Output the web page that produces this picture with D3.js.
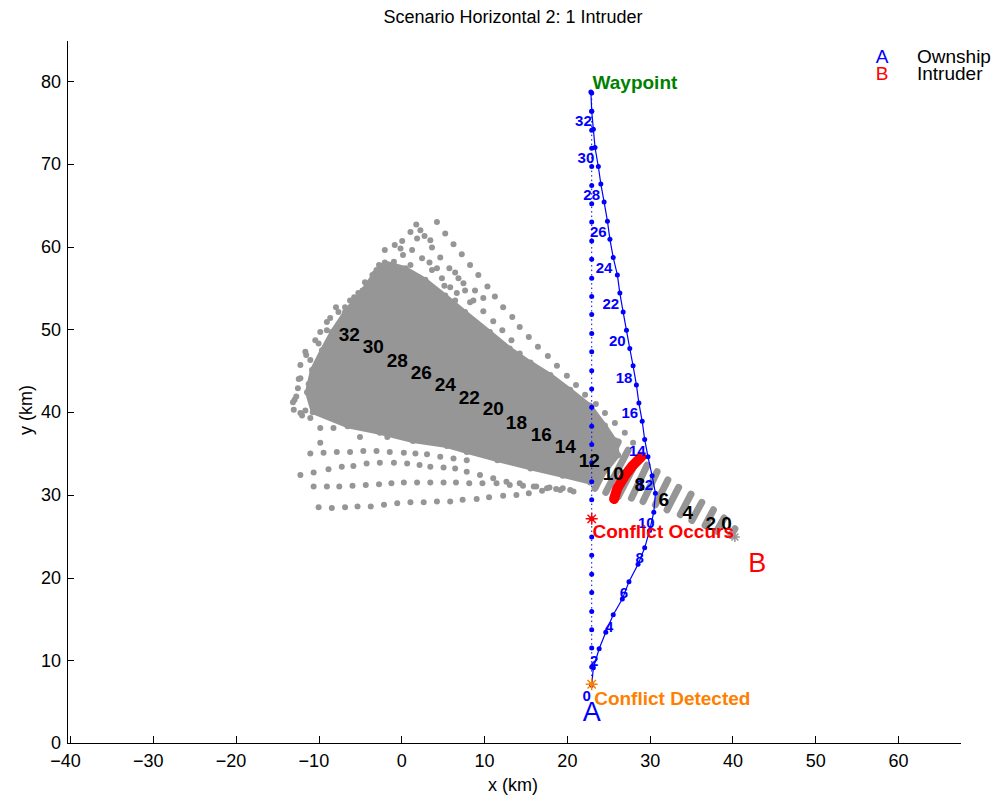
<!DOCTYPE html>
<html>
<head>
<meta charset="utf-8">
<script src="https://cdn.jsdelivr.net/npm/d3@7"></script>
<style>
body { margin: 0; background: #fff; }
svg { display: block; font-family: "Liberation Sans", Arial, Helvetica, sans-serif; }
</style>
</head>
<body>
<script>
// ---- data (km) ----
const xTicks = [-40, -30, -20, -10, 0, 10, 20, 30, 40, 50, 60];
const yTicks = [0, 10, 20, 30, 40, 50, 60, 70, 80];

// nominal ownship track (dotted, x = 23)
const nominalX = 23.0;
const nominalY = [7.0, 9.2, 11.5, 13.7, 15.9, 18.2, 20.4, 22.7, 24.9, 27.1, 29.4, 31.6, 33.9, 36.1, 38.3, 40.6,
  42.8, 45.0, 47.3, 49.5, 51.8, 54.0, 56.2, 58.5, 60.7, 63.0, 65.2, 67.4, 69.7, 71.9, 74.1, 76.4, 78.6];

// resolution manoeuvre of the ownship
const ownshipPath = [[23.0, 7.0], [23.2, 9.1], [23.9, 11.4], [24.7, 13.4], [25.6, 15.5], [26.7, 17.4], [27.5, 19.5],
  [28.6, 21.6], [29.4, 23.6], [30.0, 25.7], [30.5, 27.9], [30.7, 30.2], [30.3, 32.3], [29.8, 34.6], [29.4, 36.7],
  [29.1, 38.9], [28.7, 41.1], [28.4, 43.3], [28.0, 45.6], [27.6, 47.7], [27.2, 49.9], [26.8, 52.1], [26.4, 54.4],
  [26.1, 56.6], [25.6, 58.7], [25.2, 60.9], [24.9, 63.1], [24.5, 65.4], [24.1, 67.6], [23.8, 69.7], [23.4, 72.0],
  [23.2, 74.2], [23.0, 76.4], [22.9, 78.7]];

const ownshipLabels = [["0", 22.4, 5.8], ["2", 23.3, 10.0], ["4", 25.1, 14.1], ["6", 26.9, 18.2], ["8", 28.8, 22.4],
  ["10", 29.6, 26.7], ["12", 29.4, 31.3], ["14", 28.5, 35.4], ["16", 27.6, 40.0], ["18", 26.9, 44.2],
  ["20", 26.1, 48.7], ["22", 25.3, 53.1], ["24", 24.5, 57.5], ["26", 23.8, 61.9], ["28", 23.0, 66.3],
  ["30", 22.3, 70.8], ["32", 22.0, 75.3]];

const intruderLabels = [["32", -6.3, 49.4], ["30", -3.4, 47.9], ["28", -0.5, 46.3], ["26", 2.4, 44.8],
  ["24", 5.3, 43.4], ["22", 8.2, 41.8], ["20", 11.1, 40.4], ["18", 13.9, 38.8], ["16", 16.9, 37.3],
  ["14", 19.8, 35.8], ["12", 22.7, 34.2], ["10", 25.6, 32.6], ["8", 28.8, 31.3], ["6", 31.7, 29.5],
  ["4", 34.6, 27.9], ["2", 37.4, 26.6], ["0", 39.3, 26.5]];

// predicted intruder positions: dense core outline
const cloudCore = [[-11.4, 42.4], [-10.8, 45.1], [-9.6, 47.5], [-8.4, 49.7], [-6.8, 52.1], [-4.7, 54.7], [-3.2, 56.8],
  [-2.0, 58.1], [0.5, 57.4], [2.9, 56.0], [5.3, 54.1], [7.7, 52.1], [10.7, 49.7], [13.1, 47.7], [15.6, 46.0],
  [18.0, 44.5], [20.4, 42.7], [22.8, 40.8], [24.6, 38.4], [25.8, 36.6], [26.2, 34.8], [24.0, 32.0], [22.8, 31.5],
  [19.5, 32.3], [15.6, 33.2], [11.6, 34.2], [7.9, 35.2], [5.5, 35.9], [1.4, 36.5], [-2.6, 37.5], [-6.5, 38.3],
  [-10.7, 40.0]];

// scattered predicted positions outside the core
const cloudTop = [[1.8, 62.7], [4.3, 63.0], [1.9, 61.0], [2.8, 61.3], [5.3, 61.6], [0.1, 60.7], [3.7, 59.9], [6.3, 60.3],
  [-0.1, 59.8], [1.3, 59.6], [4.7, 58.7], [7.3, 59.1], [0.2, 59.0], [2.5, 58.6], [5.8, 57.4], [8.3, 57.8],
  [-2.7, 57.8], [-0.9, 58.2], [1.1, 57.8], [3.7, 57.2], [4.9, 56.2], [6.9, 56.2], [-3.5, 56.6], [-1.7, 56.7],
  [2.1, 56.3], [5.9, 55.1], [6.7, 54.4], [-4.4, 55.7], [-5.7, 53.9], [-6.8, 52.7], [-7.9, 52.7], [-9.0, 50.9],
  [-9.0, 49.9], [-10.0, 48.3], [-11.5, 46.9], [-12.2, 45.7], [-10.4, 44.5], [-12.4, 44.0], [-11.2, 43.4],
  [-12.5, 42.9], [-12.9, 41.5], [-13.1, 41.2], [-13.0, 40.3], [-12.0, 39.6], [-11.0, 39.3], [8.3, 53.3], [7.3, 51.7],
  [-8.6, 51.4], [-7.6, 52.1], [-6.2, 53.5], [-5.2, 54.4], [-4.0, 55.3], [-3.0, 57.2], [-1.4, 57.4], [3.4, 58.1],
  [4.3, 57.4], [6.5, 56.9], [7.5, 55.6], [8.9, 54.7], [9.9, 53.8], [6.5, 53.5], [5.2, 55.3], [-0.8, 60.2],
  [-2.0, 59.6], [2.3, 62.0], [1.1, 61.8], [3.5, 60.8], [-11.0, 46.3], [-11.6, 47.3], [-10.4, 48.7], [-9.8, 49.7],
  [-12.2, 44.1], [-12.7, 41.9], [-11.6, 40.2]];

const cloudRays = [[9.3, 56.6], [10.4, 55.2], [11.3, 54.0], [12.3, 52.7], [13.4, 51.5], [14.3, 50.3], [15.4, 49.1],
  [16.5, 47.9], [17.7, 46.8], [18.8, 45.6], [20.0, 44.4], [21.1, 43.3], [22.2, 42.1],
  [7.7, 54.7], [8.7, 53.5], [9.9, 52.2], [11.1, 51.0], [12.2, 49.9], [13.3, 48.7], [14.3, 47.1], [15.6, 45.9],
  [16.8, 44.7], [18.0, 43.5], [19.2, 42.3], [20.4, 41.1],
  [23.5, 41.0], [24.6, 39.9], [25.8, 38.7], [27.0, 37.5], [28.0, 36.3]];

const cloudRowA = [[-10.0, 28.5], [-8.4, 28.4], [-6.8, 28.5], [-5.3, 28.6], [-3.7, 28.6], [-2.1, 28.8], [-0.5, 29.0],
  [1.1, 29.1], [2.7, 29.1], [4.3, 29.2], [5.9, 29.2], [7.4, 29.4], [9.1, 29.5], [10.6, 29.7], [12.3, 29.9],
  [13.9, 30.0], [15.4, 30.2], [17.0, 30.5], [18.7, 30.7], [20.4, 30.6]];
const cloudRowB = [[-10.6, 31.0], [-9.0, 31.0], [-7.5, 31.0], [-5.9, 31.1], [-4.3, 31.2], [-2.7, 31.3], [-1.2, 31.4],
  [0.3, 31.5], [1.9, 31.5], [3.5, 31.5], [5.1, 31.5], [6.6, 31.5], [8.2, 31.4], [9.8, 31.4], [11.5, 31.4],
  [13.1, 31.2], [14.7, 31.1], [16.3, 31.0], [17.9, 30.9], [19.5, 30.8]];
const cloudRowC = [[-12.2, 32.4], [-10.6, 32.7], [-8.8, 33.1], [-7.2, 33.4], [-5.8, 33.5], [-4.2, 33.8], [-2.6, 33.9],
  [-0.9, 33.9], [0.7, 33.8], [2.2, 33.6], [3.5, 33.4], [5.1, 33.3], [6.5, 33.2], [7.9, 32.8], [9.5, 32.4],
  [11.1, 32.0], [12.7, 31.6], [14.3, 31.4], [16.0, 31.0], [17.6, 30.8], [19.2, 30.6], [20.8, 30.4]];
const cloudRowD = [[-11.0, 35.0], [-9.4, 35.1], [-7.8, 35.2], [-6.2, 35.2], [-4.6, 35.3], [-3.0, 35.3], [-1.4, 35.2],
  [0.3, 35.1], [1.7, 35.0], [3.1, 34.9], [4.7, 34.6], [6.3, 34.4], [7.9, 34.2]];
const cloudMisc = [[-9.8, 38.1], [-8.2, 38.1], [-5.0, 37.0], [-1.7, 37.0], [-12.2, 39.9], [-9.8, 36.3]];

// early time steps: elongated clusters [x1, y1, x2, y2]
const intruderStreaks = [[39.8, 25.1, 40.3, 25.9], [38.1, 25.6, 39.0, 27.2], [36.7, 26.3, 37.7, 28.2],
  [35.1, 26.9, 36.3, 29.1], [33.7, 27.6, 35.0, 30.1], [32.1, 28.2, 33.5, 30.9], [30.7, 28.8, 32.2, 31.8],
  [29.2, 29.2, 30.9, 32.8], [27.8, 29.6, 29.7, 33.6], [26.2, 29.8, 28.6, 34.4], [24.7, 30.3, 27.4, 35.4],
  [23.4, 30.8, 26.2, 36.4]];

// predicted positions in conflict
const conflictPoints = [[25.7, 29.5], [26.1, 30.8], [27.0, 32.3], [27.9, 33.5], [29.0, 34.6]];

const markers = [
  { x: 23.0, y: 7.1, color: "#ff8000", r: 6 },
  { x: 23.0, y: 27.1, color: "#ff0000", r: 6 },
  { x: 40.3, y: 24.9, color: "#969696", r: 5 }
];

const annotations = [
  { text: "Waypoint", x: 23.1, y: 79.9, color: "#008000", size: 19, weight: "bold", anchor: "start" },
  { text: "Conflict Occurs", x: 23.1, y: 25.6, color: "#ff0000", size: 19, weight: "bold", anchor: "start" },
  { text: "Conflict Detected", x: 23.3, y: 5.4, color: "#ff8000", size: 19, weight: "bold", anchor: "start" },
  { text: "A", x: 23.0, y: 3.7, color: "#0000ff", size: 27, weight: "normal", anchor: "middle" },
  { text: "B", x: 43.0, y: 21.8, color: "#ff0000", size: 27, weight: "normal", anchor: "middle" }
];

const legendItems = [["A", "Ownship", "#0000ff"], ["B", "Intruder", "#ff0000"]];

// ---- chart ----
const w = 1000;
const h = 801;
const gray = "#969696";

const svg = d3.select("body").append("svg")
  .attr("width", w)
  .attr("height", h);

const xScale = d3.scaleLinear().domain([-40.4, 67.5]).range([67, 960]);
const yScale = d3.scaleLinear().domain([0, 85]).range([743, 40]);

// gray cloud
const cloud = svg.append("g");
cloud.append("path")
  .datum(cloudCore)
  .attr("d", d3.line().x(d => xScale(d[0])).y(d => yScale(d[1])).curve(d3.curveLinearClosed))
  .attr("fill", gray)
  .attr("stroke", gray)
  .attr("stroke-width", 4)
  .attr("stroke-linejoin", "round");

const allDots = [].concat(cloudCore, cloudTop, cloudRays, cloudRowA, cloudRowB, cloudRowC, cloudRowD, cloudMisc);
cloud.selectAll("circle")
  .data(allDots)
  .enter()
  .append("circle")
  .attr("cx", d => xScale(d[0]))
  .attr("cy", d => yScale(d[1]))
  .attr("r", 3)
  .attr("fill", gray);

cloud.selectAll("line")
  .data(intruderStreaks)
  .enter()
  .append("line")
  .attr("x1", d => xScale(d[0]))
  .attr("y1", d => yScale(d[1]))
  .attr("x2", d => xScale(d[2]))
  .attr("y2", d => yScale(d[3]))
  .attr("stroke", gray)
  .attr("stroke-width", 7)
  .attr("stroke-linecap", "round");

// conflict cluster
svg.append("path")
  .datum(conflictPoints)
  .attr("d", d3.line().x(d => xScale(d[0])).y(d => yScale(d[1])))
  .attr("fill", "none")
  .attr("stroke", "#ff0000")
  .attr("stroke-width", 10)
  .attr("stroke-linecap", "round")
  .attr("stroke-linejoin", "round");

// nominal track
svg.append("line")
  .attr("x1", xScale(nominalX))
  .attr("x2", xScale(nominalX))
  .attr("y1", yScale(d3.min(nominalY)))
  .attr("y2", yScale(d3.max(nominalY)))
  .attr("stroke", "#0000ff")
  .attr("stroke-width", 1)
  .attr("stroke-dasharray", "1.5,3");

svg.append("g").selectAll("circle")
  .data(nominalY)
  .enter()
  .append("circle")
  .attr("cx", xScale(nominalX))
  .attr("cy", d => yScale(d))
  .attr("r", 2.5)
  .attr("fill", "#0000ff");

// manoeuvre track
svg.append("path")
  .datum(ownshipPath)
  .attr("d", d3.line().x(d => xScale(d[0])).y(d => yScale(d[1])))
  .attr("fill", "none")
  .attr("stroke", "#0000ff")
  .attr("stroke-width", 1.2);

svg.append("g").selectAll("circle")
  .data(ownshipPath)
  .enter()
  .append("circle")
  .attr("cx", d => xScale(d[0]))
  .attr("cy", d => yScale(d[1]))
  .attr("r", 2.5)
  .attr("fill", "#0000ff");

// asterisk markers
const star = r => `M${-r},0L${r},0M0,${-r}L0,${r}` +
  `M${-r * 0.7},${-r * 0.7}L${r * 0.7},${r * 0.7}M${-r * 0.7},${r * 0.7}L${r * 0.7},${-r * 0.7}`;
svg.append("g").selectAll("path")
  .data(markers)
  .enter()
  .append("path")
  .attr("transform", d => `translate(${xScale(d.x)},${yScale(d.y)})`)
  .attr("d", d => star(d.r))
  .attr("stroke", d => d.color)
  .attr("stroke-width", 1.5)
  .attr("fill", "none");

// time labels
svg.append("g").selectAll("text")
  .data(ownshipLabels)
  .enter()
  .append("text")
  .attr("x", d => xScale(d[1]))
  .attr("y", d => yScale(d[2]))
  .attr("text-anchor", "middle")
  .attr("dominant-baseline", "central")
  .attr("font-size", 15)
  .attr("font-weight", "bold")
  .attr("fill", "#0000ff")
  .text(d => d[0]);

svg.append("g").selectAll("text")
  .data(intruderLabels)
  .enter()
  .append("text")
  .attr("x", d => xScale(d[1]))
  .attr("y", d => yScale(d[2]))
  .attr("text-anchor", "middle")
  .attr("dominant-baseline", "central")
  .attr("font-size", 19)
  .attr("font-weight", "bold")
  .attr("fill", "#000")
  .text(d => d[0]);

svg.append("g").selectAll("text")
  .data(annotations)
  .enter()
  .append("text")
  .attr("x", d => xScale(d.x))
  .attr("y", d => yScale(d.y))
  .attr("text-anchor", d => d.anchor)
  .attr("dominant-baseline", "central")
  .attr("font-size", d => d.size)
  .attr("font-weight", d => d.weight)
  .attr("fill", d => d.color)
  .text(d => d.text);

// axes
const xAxis = d3.axisBottom(xScale)
  .tickValues(xTicks)
  .tickSizeInner(-7)
  .tickSizeOuter(0)
  .tickPadding(11)
  .tickFormat(d => d < 0 ? "\u2212" + Math.abs(d) : d);
const yAxis = d3.axisLeft(yScale)
  .tickValues(yTicks)
  .tickSizeInner(-7)
  .tickSizeOuter(0)
  .tickPadding(6);

const xAxisG = svg.append("g")
  .attr("transform", `translate(0,${yScale(0)})`)
  .call(xAxis);
const yAxisG = svg.append("g")
  .attr("transform", `translate(${xScale.range()[0]},0)`)
  .call(yAxis);

[xAxisG, yAxisG].forEach(g => {
  g.attr("font-size", 18).attr("font-family", null);
  g.selectAll("path, line").attr("stroke", "#000").attr("shape-rendering", "crispEdges");
  g.selectAll("text").attr("fill", "#000");
});
xAxisG.selectAll(".tick text").attr("dx", d => d < 0 ? "-0.29em" : 0);

svg.append("text")
  .attr("x", 513)
  .attr("y", 17)
  .attr("text-anchor", "middle")
  .attr("dominant-baseline", "central")
  .attr("font-size", 18)
  .text("Scenario Horizontal 2: 1 Intruder");

svg.append("text")
  .attr("x", 513)
  .attr("y", 785)
  .attr("text-anchor", "middle")
  .attr("dominant-baseline", "central")
  .attr("font-size", 18)
  .text("x (km)");

svg.append("text")
  .attr("transform", "translate(26,410) rotate(-90)")
  .attr("text-anchor", "middle")
  .attr("dominant-baseline", "central")
  .attr("font-size", 18)
  .text("y (km)");

// legend
const legend = svg.append("g");
legendItems.forEach((item, i) => {
  legend.append("text")
    .attr("x", 882)
    .attr("y", 56 + i * 17)
    .attr("text-anchor", "middle")
    .attr("dominant-baseline", "central")
    .attr("font-size", 19)
    .attr("fill", item[2])
    .text(item[0]);
  legend.append("text")
    .attr("x", 917)
    .attr("y", 56 + i * 17)
    .attr("dominant-baseline", "central")
    .attr("font-size", 19)
    .attr("fill", "#000")
    .text(item[1]);
});
</script>
</body>
</html>
